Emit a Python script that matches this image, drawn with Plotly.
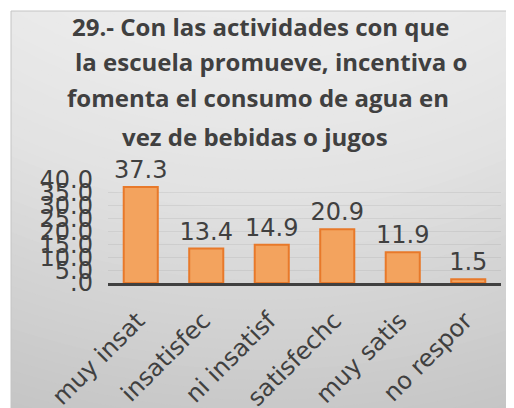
import plotly.graph_objects as go

# ---- data ----
categories = ["muy insat", "insatisfec", "ni insatisf", "satisfechc", "muy satis", "no respor"]
values = [37.3, 13.4, 14.9, 20.9, 11.9, 1.5]
value_labels = ["37.3", "13.4", "14.9", "20.9", "11.9", "1.5"]
y_tick_values = [0, 5, 10, 15, 20, 25, 30, 35, 40]
y_tick_labels = [".0", "5.0", "10.0", "15.0", "20.0", "25.0", "30.0", "35.0", "40.0"]
title_lines = [
    "29.- Con las actividades con que",
    "la escuela promueve, incentiva o",
    "fomenta el consumo de agua en",
    "vez de bebidas o jugos",
]

# ---- layout geometry ----
# page body has an 8px default margin, so screen pixel X corresponds to figure pixel X-8
OFF = 8
W, H = 514, 408
PLOT_L, PLOT_R, PLOT_T, PLOT_B = 108, 501, 180, 283   # screen pixels
L = PLOT_L - OFF
R = W - (PLOT_R - OFF)
T = PLOT_T - OFF
B = H - (PLOT_B - OFF)
PW, PH = W - L - R, H - T - B


def px_x(X):  # screen pixel -> paper
    return (X - OFF - L) / PW


def px_y(Y):
    return (H - B - (Y - OFF)) / PH


def gray(stops, r):
    if r <= stops[0][0]:
        g = stops[0][1]
    elif r >= stops[-1][0]:
        g = stops[-1][1]
    else:
        for (r0, g0), (r1, g1) in zip(stops, stops[1:]):
            if r0 <= r <= r1:
                g = g0 + (g1 - g0) * (r - r0) / (r1 - r0)
                break
    g = int(round(g))
    return f"rgb({g},{g},{g})"


shapes = []
cx, cy = 262, -400
stops = [(410, 0xEC), (480, 0xEA), (600, 0xE2), (700, 0xD5), (850, 0xC5)]
for rad in range(880, 400, -10):
    shapes.append(dict(
        type="circle", xref="paper", yref="paper", layer="below",
        x0=px_x(cx - rad), x1=px_x(cx + rad), y0=px_y(cy + rad), y1=px_y(cy - rad),
        fillcolor=gray(stops, rad), line=dict(width=0),
    ))
shapes.append(dict(type="rect", xref="paper", yref="paper", layer="below",
                   x0=px_x(-50), x1=px_x(W + 50), y0=px_y(11), y1=px_y(-200),
                   fillcolor="white", line=dict(width=0)))
shapes.append(dict(type="rect", xref="paper", yref="paper", layer="below",
                   x0=px_x(-200), x1=px_x(11), y0=px_y(H + 50), y1=px_y(-50),
                   fillcolor="white", line=dict(width=0)))
shapes.append(dict(type="rect", xref="paper", yref="paper", layer="below",
                   x0=px_x(11), x1=px_x(W + 20), y0=px_y(H + 20), y1=px_y(11),
                   fillcolor="rgba(0,0,0,0)", line=dict(width=1, color="#c4c4c4")))

fig = go.Figure()
fig.add_trace(go.Bar(
    x=categories, y=values,
    text=value_labels, textposition="outside", cliponaxis=False,
    constraintext="none", textangle=0,
    textfont=dict(family="DejaVu Sans", size=24, color="#404040"),
    marker=dict(color="#f3a35e", line=dict(color="#e8792a", width=2)),
    width=0.52,
))

title_x = [261, 271, 258, 255]
title_y = [26, 61, 98, 136]
annotations = []
for txt, tx, ty in zip(title_lines, title_x, title_y):
    annotations.append(dict(
        text=txt, xref="paper", yref="paper", x=px_x(tx), y=px_y(ty),
        xanchor="center", yanchor="middle", showarrow=False,
        font=dict(family="Open Sans", size=24, color="#404040", weight="bold"),
    ))

fig.update_layout(
    width=W, height=H,
    margin=dict(l=L, r=R, t=T, b=B, pad=0, autoexpand=False),
    paper_bgcolor="white", plot_bgcolor="rgba(0,0,0,0)",
    showlegend=False,
    shapes=shapes,
    annotations=annotations,
    xaxis=dict(
        type="category", tickangle=-45, automargin=False,
        tickfont=dict(family="DejaVu Sans", size=24, color="#404040"),
        showline=True, linecolor="#404040", linewidth=3,
        showgrid=False, ticks="", zeroline=False,
        ticklabelstandoff=11, ticklabelshift=-3,
    ),
    yaxis=dict(
        range=[0, 40], tickvals=y_tick_values, ticktext=y_tick_labels, automargin=False,
        tickfont=dict(family="DejaVu Sans", size=24, color="#404040"),
        showgrid=True, gridcolor="rgba(0,0,0,0.06)", gridwidth=1,
        zeroline=False, showline=False, ticks="", ticklabelstandoff=14,
    ),
)

fig.write_html("out.html")
